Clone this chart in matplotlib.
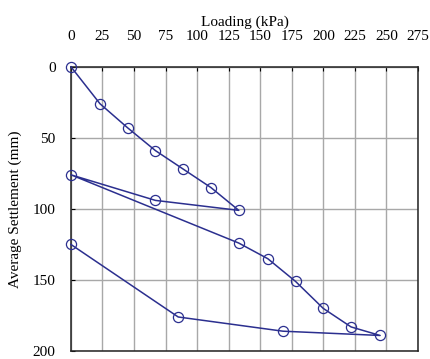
import matplotlib.pyplot as plt

# load-settlement path (loading, unloading, reloading, unloading)
loading = [0, 23, 45, 67, 89, 111, 133, 67, 0, 133, 156, 178, 200, 222, 245, 168, 85, 0]
settlement = [0, 26, 43, 59, 72, 85, 101, 94, 76, 124, 135, 151, 170, 183, 189, 186, 176, 125]

x_ticks = [0, 25, 50, 75, 100, 125, 150, 175, 200, 225, 250, 275]
y_ticks = [0, 50, 100, 150, 200]

plt.rcParams['font.family'] = ['Liberation Serif', 'DejaVu Serif']

fig = plt.figure(figsize=(4.3, 3.59), dpi=100)
ax = fig.add_axes([0.165, 0.022, 0.807, 0.792])

line_color = '#2b2f8f'
ax.plot(loading, settlement, color=line_color, lw=1.1, marker='o', ms=7.3,
        mfc='none', mec=line_color, mew=0.9, zorder=3, clip_on=False)

ax.set_xlim(0, 275)
ax.set_ylim(200, 0)
ax.set_xticks(x_ticks)
ax.set_yticks(y_ticks)
ax.xaxis.tick_top()
ax.xaxis.set_label_position('top')
ax.tick_params(axis='both', direction='in', length=3, labelsize=11)
ax.tick_params(axis='x', pad=17)
ax.tick_params(axis='y', pad=11)

ax.grid(True, color='#a8a8a8', lw=1.0)
ax.set_axisbelow(True)
for s in ax.spines.values():
    s.set_color('#222222')
    s.set_linewidth(1.1)

ax.set_xlabel('Loading (kPa)', fontsize=11, labelpad=3)
ax.set_ylabel('Average Settlement (mm)', fontsize=11, labelpad=8)

fig.savefig('out.png', dpi=100)
